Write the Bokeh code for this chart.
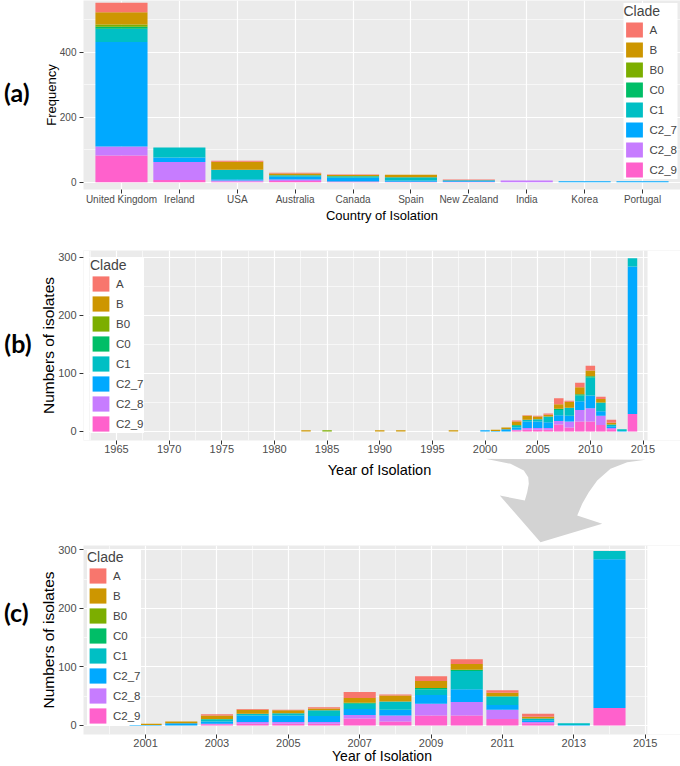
from bokeh.plotting import figure
from bokeh.models import (ColumnDataSource, FactorRange, Range1d, Legend, LegendItem, LinearAxis,
                          SingleIntervalTicker, FixedTicker, BoxAnnotation)
from bokeh.core.properties import value
from bokeh.layouts import column
from bokeh.embed import file_html
from bokeh.resources import INLINE

# ---------------- data ----------------
clades = ["A", "B", "B0", "C0", "C1", "C2_7", "C2_8", "C2_9"]
clade_colors = ["#F8766D", "#CD9600", "#7CAE00", "#00BE67", "#00BFC4", "#00A9FF", "#C77CFF", "#FF61CC"]

countries = ["United Kingdom", "Ireland", "USA", "Australia", "Canada", "Spain",
             "New Zealand", "India", "Korea", "Portugal"]
country_A    = [29, 0, 3, 2, 2, 0, 2, 0, 0, 0]
country_B    = [38, 0, 25, 6, 3, 8, 0, 0, 0, 0]
country_B0   = [7, 0, 0, 0, 1, 0, 0, 0, 0, 0]
country_C0   = [6, 0, 0, 0, 0, 0, 0, 0, 0, 0]
country_C1   = [41, 31, 29, 4, 4, 10, 2, 0, 0, 0]
country_C2_7 = [321, 14, 4, 9, 12, 4, 3, 0, 3, 3]
country_C2_8 = [28, 55, 3, 4, 0, 0, 0, 5, 0, 0]
country_C2_9 = [82, 7, 2, 4, 2, 1, 1, 0, 0, 0]

years     = [1967, 1983, 1985, 1990, 1992, 1997, 2000, 2001, 2002, 2003, 2004, 2005, 2006,
             2007, 2008, 2009, 2010, 2011, 2012, 2013, 2014]
year_A    = [0, 0, 0, 0, 0, 0, 0, 0, 0, 2, 1, 1, 2, 10, 2, 8, 8, 4, 5, 0, 0]
year_B    = [2, 2, 0, 2, 2, 2, 0, 2, 3, 6, 7, 5, 3, 8, 10, 12, 10, 6, 3, 0, 0]
year_B0   = [0, 0, 2, 0, 0, 0, 0, 0, 0, 0, 0, 0, 0, 0, 0, 0, 0, 0, 0, 0, 0]
year_C0   = [0, 0, 0, 0, 0, 0, 0, 0, 0, 1, 0, 0, 0, 2, 0, 2, 2, 1, 0, 0, 0]
year_C1   = [0, 0, 0, 0, 0, 0, 0, 0, 0, 3, 3, 4, 10, 9, 14, 10, 31, 14, 3, 3, 14]
year_C2_7 = [0, 0, 0, 0, 0, 0, 2, 1, 4, 4, 11, 11, 10, 10, 10, 15, 22, 8, 3, 1, 254]
year_C2_8 = [0, 0, 0, 0, 0, 0, 0, 0, 0, 1, 3, 3, 3, 6, 10, 20, 23, 16, 2, 0, 0]
year_C2_9 = [0, 0, 0, 0, 0, 0, 0, 0, 0, 2, 3, 3, 3, 12, 7, 17, 17, 11, 4, 0, 30]

zoom_start_year = 2001
zoom_ticks = [2001, 2003, 2005, 2007, 2009, 2011, 2013, 2015]
zoom_minor = [2000, 2002, 2004, 2006, 2008, 2010, 2012, 2014]

panel_tags = ["(a)", "(b)", "(c)"]
year_axis_title = "Year of Isolation"

country_values = [country_A, country_B, country_B0, country_C0, country_C1,
                  country_C2_7, country_C2_8, country_C2_9]
year_values = [year_A, year_B, year_B0, year_C0, year_C1, year_C2_7, year_C2_8, year_C2_9]

# ---------------- helpers ----------------
W = 680
LEFT = 83            # common frame left edge (px), all rows share it
FONT = "Liberation Sans"
stack_order = list(reversed(clades))          # C2_9 at bottom ... A on top
color_of = dict(zip(clades, clade_colors))


def style(p, tick_size, xt_size, yt_size):
    p.background_fill_color = "#EBEBEB"
    p.border_fill_color = "white"
    p.outline_line_color = None
    for ax in p.axis:
        ax.axis_line_color = None
        ax.major_tick_line_color = "#333333"
        ax.major_tick_line_width = 1
        ax.major_tick_out = 4
        ax.major_tick_in = 0
        ax.minor_tick_line_color = None
        ax.major_label_text_color = "#4D4D4D"
        ax.major_label_text_font = FONT
        ax.major_label_text_font_size = tick_size
        ax.axis_label_text_font = FONT
        ax.axis_label_text_font_style = "normal"
        ax.axis_label_text_color = "black"
    p.xaxis.major_label_standoff = 0
    p.xaxis.axis_label_standoff = 0
    p.yaxis.major_label_standoff = 3
    p.yaxis.axis_label_standoff = -2
    p.xaxis.axis_label_text_font_size = xt_size
    p.yaxis.axis_label_text_font_size = yt_size
    p.grid.grid_line_color = "white"
    p.grid.grid_line_width = 1.2
    p.grid.minor_grid_line_color = "white"
    p.grid.minor_grid_line_width = 0.6


def add_legend(p, renderers, loc, margin):
    items = [LegendItem(label=c, renderers=[renderers[stack_order.index(c)]]) for c in clades]
    lg = Legend(items=items, location=loc, margin=margin, title="Clade",
                title_text_font=FONT, title_text_font_size="14px", title_text_font_style="normal",
                title_standoff=1, label_text_font=FONT, label_text_font_size="11.5px",
                glyph_width=21, glyph_height=19, label_height=19, spacing=1,
                label_standoff=5, padding=3, background_fill_color="white",
                background_fill_alpha=1, border_line_color=None)
    p.add_layout(lg)


def panel_tag(p, text, at, standoff):
    """Bold panel tag drawn as the single tick label of an outer left axis."""
    ax = LinearAxis(ticker=FixedTicker(ticks=[at]), major_label_overrides={at: text},
                    axis_line_color=None, major_tick_line_color=None, minor_tick_line_color=None,
                    major_label_text_font="Lato", major_label_text_font_style="bold",
                    major_label_text_font_size="25px", major_label_text_color="black",
                    major_label_standoff=standoff)
    p.add_layout(ax, "left")


def frame_value(py, ftop, fbot, lo, hi):
    return hi - (py - ftop) * (hi - lo) / (fbot - ftop)


# ---------------- (a) country ----------------
src_a = {"country": countries}
for c, v in zip(clades, country_values):
    src_a[c] = v
src_a = ColumnDataSource(src_a)

A_H, A_FB = 225, 189
ay0, ay1 = -22.5, 559
pa = figure(width=W, height=A_H,
            x_range=FactorRange(factors=countries, range_padding=0.156, range_padding_units="absolute"),
            y_range=Range1d(ay0, ay1), output_backend="svg", toolbar_location=None,
            min_border_left=LEFT, min_border_right=0, min_border_top=0,
            min_border_bottom=A_H - A_FB)
ra = pa.vbar_stack(stack_order, x="country", width=0.9, source=src_a,
                   color=[color_of[c] for c in stack_order], line_color=None)
pa.yaxis.ticker = SingleIntervalTicker(interval=200, num_minor_ticks=2)
pa.xaxis.axis_label = "Country of Isolation"
pa.yaxis.axis_label = "Frequency"
style(pa, "10px", "13px", "13px")
pa.xgrid.minor_grid_line_color = None
add_legend(pa, ra, "top_right", 3)
panel_tag(pa, panel_tags[0], round(frame_value(92, 0, A_FB, ay0, ay1)), 5)

# ---------------- (b) year, full ----------------
src_b = {"year": years}
for c, v in zip(clades, year_values):
    src_b[c] = v
src_b = ColumnDataSource(src_b)

B_TOP, B_H = 225, 233
B_FT, B_FB = 250, 440               # frame top/bottom (page px)
bx0, bx1 = 1961.87, 2018.56
by0, by1 = -15.5, 311.5
pb = figure(width=W, height=B_H, x_range=Range1d(bx0, bx1), y_range=Range1d(by0, by1),
            output_backend="svg", toolbar_location=None,
            min_border_left=LEFT, min_border_right=0,
            min_border_top=B_FT - B_TOP, min_border_bottom=B_TOP + B_H - B_FB)
rb = pb.vbar_stack(stack_order, x="year", width=0.9, source=src_b,
                   color=[color_of[c] for c in stack_order], line_color=None)
pb.xaxis.ticker = SingleIntervalTicker(interval=5, num_minor_ticks=2)
pb.yaxis.ticker = SingleIntervalTicker(interval=100, num_minor_ticks=2)
pb.yaxis.axis_label = "Numbers of isolates"
style(pb, "11px", "14.5px", "15.5px")
# the grey panel spans 1962.44 .. 2015.43 only: blank the rest of the frame
pb.add_layout(BoxAnnotation(right=1962.44, fill_color="white", fill_alpha=1, line_color=None))
pb.add_layout(BoxAnnotation(left=2015.43, fill_color="white", fill_alpha=1, line_color=None))
add_legend(pb, rb, "top_left", 7)
panel_tag(pb, panel_tags[1], round(frame_value(342, B_FT, B_FB, by0, by1)), 0)

# ---------------- strip between (b) and (c): x title of (b) + grey arrow ----------------
M_TOP, M_H = 458, 87
arrow_x = [485, 510, 523.3, 527.7, 528.3, 526.7, 524.3, 499.3, 540, 601.7,
           576.7, 581.7, 588.3, 596.7, 610, 626.7, 645]
arrow_y = [458.3, 463.3, 470, 476.7, 483.3, 491.7, 500, 495, 541.7, 523.3,
           515, 503.3, 491.7, 480, 468.3, 461.7, 459.3]
pm = figure(width=W, height=M_H, x_range=Range1d(LEFT, W), y_range=Range1d(M_TOP + M_H, M_TOP),
            x_axis_type=None, y_axis_type=None, output_backend="svg", toolbar_location=None,
            min_border_left=LEFT, min_border_right=0, min_border_top=0, min_border_bottom=0)
pm.grid.visible = False
pm.outline_line_color = None
pm.background_fill_color = "white"
pm.patch(arrow_x, arrow_y, fill_color="#D3D3D3", line_color=None)
pm.text(x=[379], y=[469], text=[year_axis_title], text_font=value(FONT), text_font_size="14.5px",
        text_align="center", text_baseline="middle", text_color="black")

# ---------------- (c) year, zoom ----------------
keep = [i for i, y in enumerate(years) if y >= zoom_start_year]
src_c = {"year": [years[i] for i in keep]}
for c, v in zip(clades, year_values):
    src_c[c] = [v[i] for i in keep]
src_c = ColumnDataSource(src_c)

C_TOP, C_H = 545, 221
C_FB = 734
cy0, cy1 = -15.4, 307.3
pc = figure(width=W, height=C_H, x_range=Range1d(1999.26, 2015.99), y_range=Range1d(cy0, cy1),
            output_backend="svg", toolbar_location=None,
            min_border_left=LEFT, min_border_right=0,
            min_border_top=0, min_border_bottom=C_TOP + C_H - C_FB)
rc = pc.vbar_stack(stack_order, x="year", width=0.9, source=src_c,
                   color=[color_of[c] for c in stack_order], line_color=None)
pc.xaxis.ticker = FixedTicker(ticks=zoom_ticks, minor_ticks=zoom_minor)
pc.yaxis.ticker = SingleIntervalTicker(interval=100, num_minor_ticks=2)
pc.xaxis.axis_label = year_axis_title
pc.yaxis.axis_label = "Numbers of isolates"
style(pc, "11px", "14px", "15.5px")
pc.xaxis.axis_label_standoff = -2
pc.add_layout(BoxAnnotation(left=2015.06, fill_color="white", fill_alpha=1, line_color=None))
add_legend(pc, rc, "top_left", 4)
panel_tag(pc, panel_tags[2], round(frame_value(612, C_TOP, C_FB, cy0, cy1)), 3)

layout = column(pa, pb, pm, pc, spacing=0)
open("out.html", "w").write(file_html(layout, INLINE))
